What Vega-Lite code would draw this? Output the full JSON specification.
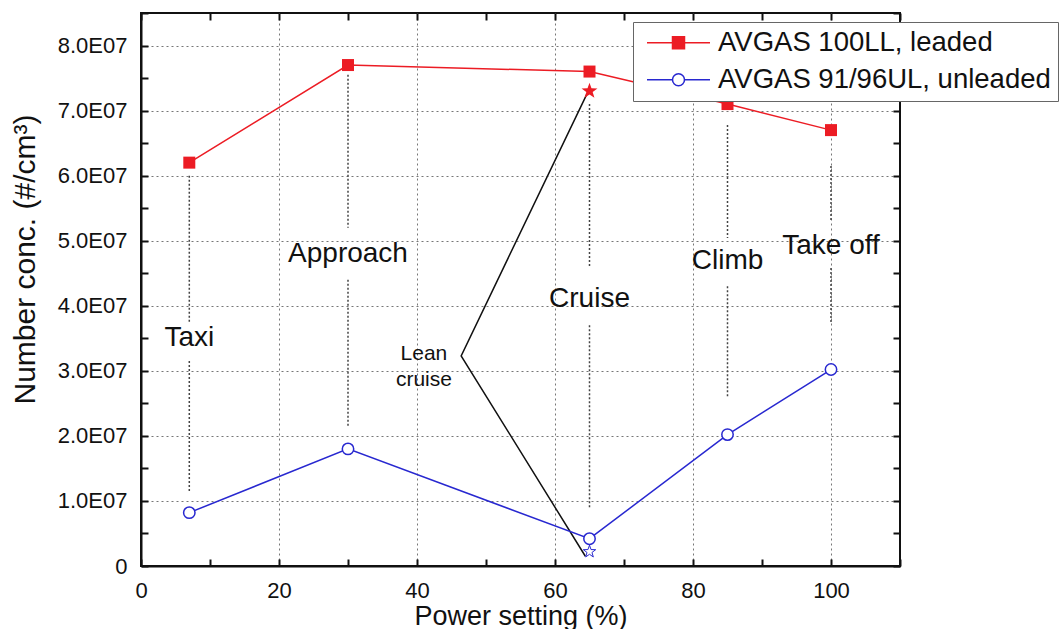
{
  "$schema": "https://vega.github.io/schema/vega-lite/v6.json",
  "width": 759,
  "height": 553,
  "padding": {"left": 10, "top": 2, "right": 0, "bottom": 0},
  "config": {
    "font": "Liberation Sans",
    "view": {"stroke": "#111111", "strokeWidth": 2},
    "text": {"font": "Liberation Sans"}
  },
  "datasets": {
    "main": [
      {"p": 7, "c": 62000000, "fuel": "AVGAS 100LL, leaded"},
      {"p": 30, "c": 77000000, "fuel": "AVGAS 100LL, leaded"},
      {"p": 65, "c": 76000000, "fuel": "AVGAS 100LL, leaded"},
      {"p": 85, "c": 71000000, "fuel": "AVGAS 100LL, leaded"},
      {"p": 100, "c": 67000000, "fuel": "AVGAS 100LL, leaded"},
      {"p": 7, "c": 8200000, "fuel": "AVGAS 91/96UL, unleaded"},
      {"p": 30, "c": 18000000, "fuel": "AVGAS 91/96UL, unleaded"},
      {"p": 65, "c": 4200000, "fuel": "AVGAS 91/96UL, unleaded"},
      {"p": 85, "c": 20200000, "fuel": "AVGAS 91/96UL, unleaded"},
      {"p": 100, "c": 30200000, "fuel": "AVGAS 91/96UL, unleaded"}
    ],
    "stars": [
      {"p": 65, "c": 73000000, "fuel": "AVGAS 100LL, leaded"},
      {"p": 65, "c": 2200000, "fuel": "AVGAS 91/96UL, unleaded"}
    ],
    "lean": [
      {"p": 64.6, "c": 72500000, "o": 1},
      {"p": 46.4, "c": 32300000, "o": 2},
      {"p": 64.4, "c": 1500000, "o": 3}
    ],
    "vlines": [
      {"p": 7, "c": 60000000, "c2": 37500000},
      {"p": 7, "c": 31500000, "c2": 11500000},
      {"p": 30, "c": 75500000, "c2": 52000000},
      {"p": 30, "c": 44000000, "c2": 21500000},
      {"p": 65, "c": 71000000, "c2": 45800000},
      {"p": 65, "c": 37000000, "c2": 9000000},
      {"p": 85, "c": 67800000, "c2": 50400000},
      {"p": 85, "c": 43000000, "c2": 26000000},
      {"p": 100, "c": 61500000, "c2": 53000000},
      {"p": 100, "c": 45800000, "c2": 37200000}
    ],
    "labels": [
      {"p": 7, "c": 35000000, "t": "Taxi"},
      {"p": 30, "c": 47900000, "t": "Approach"},
      {"p": 65, "c": 41000000, "t": "Cruise"},
      {"p": 85, "c": 46900000, "t": "Climb"},
      {"p": 100, "c": 49200000, "t": "Take off"}
    ],
    "leanlabel": [
      {"p": 41, "c": 32600000, "t": "Lean\ncruise"}
    ]
  },
  "layer": [
    {
      "encoding": {
        "x": {
          "field": "p", "type": "quantitative",
          "scale": {"domain": [0, 110], "nice": false, "zero": false},
          "axis": {
            "orient": "bottom",
            "values": [0, 10, 20, 30, 40, 50, 60, 70, 80, 90, 100, 110],
            "labelExpr": "datum.value % 20 == 0 && datum.value < 110 ? datum.label : ''",
            "tickSize": -7, "tickWidth": 2, "tickColor": "#111111",
            "domainColor": "#111111", "domainWidth": 2,
            "labelPadding": 21, "labelFontSize": 22, "labelColor": "#111111",
            "labelFont": "Liberation Sans", "labelFlush": false, "labelOverlap": false,
            "grid": true, "gridDash": [2, 3], "gridColor": "#777777", "gridWidth": 1,
            "gridOpacity": {"condition": {"test": "datum.value % 20 == 0 && datum.value > 0 && datum.value < 110", "value": 1}, "value": 0},
            "title": "Power setting (%)", "titleFontSize": 27, "titleFontWeight": "normal",
            "titleFont": "Liberation Sans", "titleColor": "#111111", "titlePadding": 2
          }
        },
        "y": {
          "field": "c", "type": "quantitative",
          "scale": {"domain": [0, 85000000], "nice": false, "zero": false},
          "axis": {
            "orient": "left",
            "values": [0, 5000000, 10000000, 15000000, 20000000, 25000000, 30000000, 35000000, 40000000, 45000000, 50000000, 55000000, 60000000, 65000000, 70000000, 75000000, 80000000, 85000000],
            "labelExpr": "datum.value == 0 ? '0' : (datum.value % 10000000 == 0 ? format(datum.value / 10000000, '.1f') + 'E07' : '')",
            "tickSize": -7, "tickWidth": 2, "tickColor": "#111111",
            "domainColor": "#111111", "domainWidth": 2,
            "labelPadding": 21, "labelFontSize": 22, "labelColor": "#111111",
            "labelFont": "Liberation Sans", "labelFlush": false, "labelOverlap": false,
            "grid": true, "gridDash": [2, 3], "gridColor": "#777777", "gridWidth": 1,
            "gridOpacity": {"condition": {"test": "datum.value % 10000000 == 0 && datum.value > 0 && datum.value < 85000000", "value": 1}, "value": 0},
            "title": "Number conc. (#/cm³)", "titleFontSize": 30, "titleFontWeight": "normal",
            "titleFont": "Liberation Sans", "titleColor": "#111111", "titlePadding": 17, "titleY": 246
          }
        }
      },
      "layer": [
        {
          "data": {"name": "vlines"},
          "mark": {"type": "rule", "strokeDash": [2, 2], "strokeWidth": 1.5, "color": "#444444"},
          "encoding": {"y2": {"field": "c2"}}
        },
        {
          "data": {"name": "lean"},
          "mark": {"type": "line", "color": "#111111", "strokeWidth": 1.5},
          "encoding": {"order": {"field": "o", "type": "quantitative"}}
        },
        {
          "data": {"name": "main"},
          "transform": [{"filter": "datum.fuel == 'AVGAS 100LL, leaded'"}],
          "mark": {"type": "line", "color": "#ec1c24", "strokeWidth": 1.5},
          "encoding": {}
        },
        {
          "data": {"name": "main"},
          "transform": [{"filter": "datum.fuel == 'AVGAS 91/96UL, unleaded'"}],
          "mark": {"type": "line", "color": "#2828d0", "strokeWidth": 1.5},
          "encoding": {}
        },
        {
          "data": {"name": "main"},
          "transform": [{"filter": "datum.fuel == 'AVGAS 100LL, leaded'"}],
          "mark": {"type": "point", "shape": "square", "filled": true, "fill": "#ec1c24", "stroke": "#ec1c24", "strokeWidth": 0, "size": 144, "opacity": 1},
          "encoding": {}
        },
        {
          "data": {"name": "main"},
          "transform": [{"filter": "datum.fuel == 'AVGAS 91/96UL, unleaded'"}],
          "mark": {"type": "point", "shape": "circle", "filled": true, "fill": "#ffffff", "stroke": "#2828d0", "strokeWidth": 1.5, "size": 130, "opacity": 1},
          "encoding": {}
        },
        {
          "data": {"name": "stars"},
          "transform": [{"filter": "datum.fuel == 'AVGAS 100LL, leaded'"}],
          "mark": {"type": "point", "shape": "M0,-1L0.235,-0.324L0.951,-0.309L0.38,0.124L0.588,0.809L0,0.4L-0.588,0.809L-0.38,0.124L-0.951,-0.309L-0.235,-0.324Z", "filled": true, "fill": "#ec1c24", "strokeWidth": 0, "size": 280, "opacity": 1},
          "encoding": {}
        },
        {
          "data": {"name": "stars"},
          "transform": [{"filter": "datum.fuel == 'AVGAS 91/96UL, unleaded'"}],
          "mark": {"type": "point", "shape": "M0,-1L0.235,-0.324L0.951,-0.309L0.38,0.124L0.588,0.809L0,0.4L-0.588,0.809L-0.38,0.124L-0.951,-0.309L-0.235,-0.324Z", "filled": true, "fill": "#ffffff", "stroke": "#2828d0", "strokeWidth": 1, "size": 170, "opacity": 1},
          "encoding": {}
        },
        {
          "data": {"name": "labels"},
          "mark": {"type": "text", "fontSize": 28, "color": "#111111", "align": "center", "baseline": "middle"},
          "encoding": {"text": {"field": "t"}}
        },
        {
          "data": {"name": "leanlabel"},
          "mark": {"type": "text", "fontSize": 21, "color": "#111111", "align": "center", "baseline": "middle", "lineBreak": "\n", "lineHeight": 26},
          "encoding": {"text": {"field": "t"}}
        }
      ]
    },
    {
      "data": {"name": "main"},
      "mark": {"type": "point", "filled": true, "opacity": 0, "strokeWidth": 1.5},
      "encoding": {
        "x": {
          "field": "p", "type": "quantitative",
          "scale": {"domain": [0, 110], "nice": false, "zero": false},
          "axis": {
            "orient": "top",
            "values": [0, 10, 20, 30, 40, 50, 60, 70, 80, 90, 100, 110],
            "labels": false, "domain": false, "grid": false,
            "tickSize": -7, "tickWidth": 2, "tickColor": "#111111", "title": null
          }
        },
        "y": {
          "field": "c", "type": "quantitative",
          "scale": {"domain": [0, 85000000], "nice": false, "zero": false},
          "axis": {
            "orient": "right",
            "values": [0, 5000000, 10000000, 15000000, 20000000, 25000000, 30000000, 35000000, 40000000, 45000000, 50000000, 55000000, 60000000, 65000000, 70000000, 75000000, 80000000, 85000000],
            "labels": false, "domain": false, "grid": false,
            "tickSize": -7, "tickWidth": 2, "tickColor": "#111111", "title": null
          }
        },
        "shape": {
          "field": "fuel", "type": "nominal",
          "scale": {
            "domain": ["AVGAS 100LL, leaded", "AVGAS 91/96UL, unleaded"],
            "range": [
              "M-0.675,0H5.625M1.875,-0.6H3.075V0.6H1.875Z",
              "M-0.675,0H1.875M3.075,0H5.625M3.075,0A0.6,0.6,0,1,1,1.875,0A0.6,0.6,0,1,1,3.075,0Z"
            ]
          },
          "legend": {
            "title": null, "orient": "none", "legendX": 492, "legendY": 9, "direction": "vertical",
            "padding": 7, "fillColor": "#ffffff", "strokeColor": "#666666",
            "labelFont": "Liberation Sans", "labelFontSize": 27.5, "labelColor": "#111111",
            "labelOffset": 50.5, "symbolSize": 400, "symbolStrokeWidth": 1.5, "symbolOpacity": 1,
            "rowPadding": 8, "labelLimit": 0
          }
        },
        "fill": {
          "field": "fuel", "type": "nominal",
          "scale": {"domain": ["AVGAS 100LL, leaded", "AVGAS 91/96UL, unleaded"], "range": ["#ec1c24", "#ffffff"]},
          "legend": {
            "title": null, "orient": "none", "legendX": 492, "legendY": 9, "direction": "vertical",
            "padding": 7, "fillColor": "#ffffff", "strokeColor": "#666666",
            "labelFont": "Liberation Sans", "labelFontSize": 27.5, "labelColor": "#111111",
            "labelOffset": 50.5, "symbolSize": 400, "symbolStrokeWidth": 1.5, "symbolOpacity": 1,
            "rowPadding": 8, "labelLimit": 0
          }
        },
        "stroke": {
          "field": "fuel", "type": "nominal",
          "scale": {"domain": ["AVGAS 100LL, leaded", "AVGAS 91/96UL, unleaded"], "range": ["#ec1c24", "#2828d0"]},
          "legend": {
            "title": null, "orient": "none", "legendX": 492, "legendY": 9, "direction": "vertical",
            "padding": 7, "fillColor": "#ffffff", "strokeColor": "#666666",
            "labelFont": "Liberation Sans", "labelFontSize": 27.5, "labelColor": "#111111",
            "labelOffset": 50.5, "symbolSize": 400, "symbolStrokeWidth": 1.5, "symbolOpacity": 1,
            "rowPadding": 8, "labelLimit": 0
          }
        }
      }
    }
  ],
  "resolve": {"axis": {"x": "independent", "y": "independent"}}
}
